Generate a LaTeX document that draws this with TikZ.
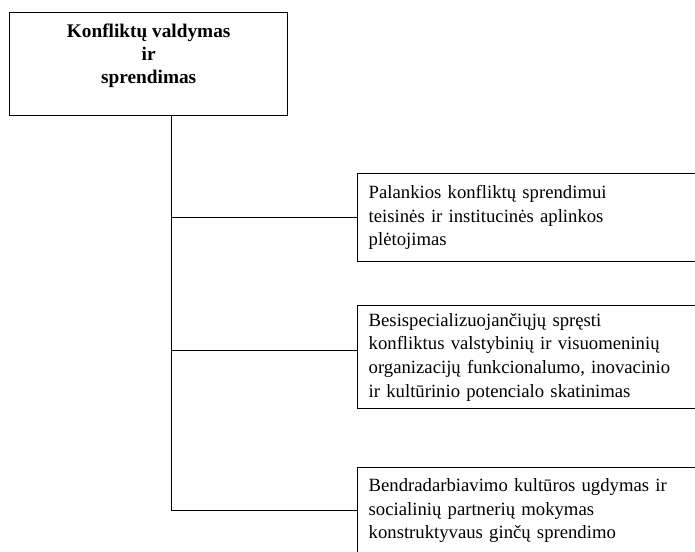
\documentclass[tikz,border=0pt]{standalone}
\usepackage{fontspec}
\setmainfont{Liberation Serif}
\begin{document}
\begin{tikzpicture}[x=1pt,y=1pt,
  every node/.style={inner sep=0pt},
  box/.style={draw, line width=1.4pt, rectangle, anchor=north west},
  itembox/.style={box, text width=330pt, inner xsep=11pt, align=left,
    font=\fontsize{18.7}{23.7}\selectfont},
  conn/.style={line width=1.4pt}]
\useasboundingbox (0,0) rectangle (695,-551);
\clip (0,0) rectangle (695,-551);
\fill[white] (0,0) rectangle (695,-551);
\node[box, minimum width=278pt, minimum height=103pt,
  label={[anchor=north, yshift=-12pt, align=center,
    font=\bfseries\fontsize{19.3}{23}\selectfont]north:Konfliktų valdymas\\ir\\sprendimas}]
  (top) at (9,-12) {};
\node[itembox, minimum height=88pt] (b1) at (357,-173)
  {Palankios konfliktų sprendimui\\teisinės ir institucinės aplinkos\\plėtojimas};
\node[itembox, minimum height=103pt] (b2) at (357,-305)
  {Besispecializuojančiųjų spręsti\\konfliktus valstybinių ir visuomeninių\\organizacijų funkcionalumo, inovacinio\\ir kultūrinio potencialo skatinimas};
\node[itembox, minimum height=86pt] (b3) at (357,-467)
  {Bendradarbiavimo kultūros ugdymas ir\\socialinių partnerių mokymas\\konstruktyvaus ginčų sprendimo};
\coordinate (t0) at ([xshift=23pt]top.south);
\draw[conn] (t0) |- (b3.west);
\draw[conn] (t0 |- b1.west) -- (b1.west);
\draw[conn] ([yshift=7pt]b2.west -| t0) -- ([yshift=7pt]b2.west);
\end{tikzpicture}
\end{document}
